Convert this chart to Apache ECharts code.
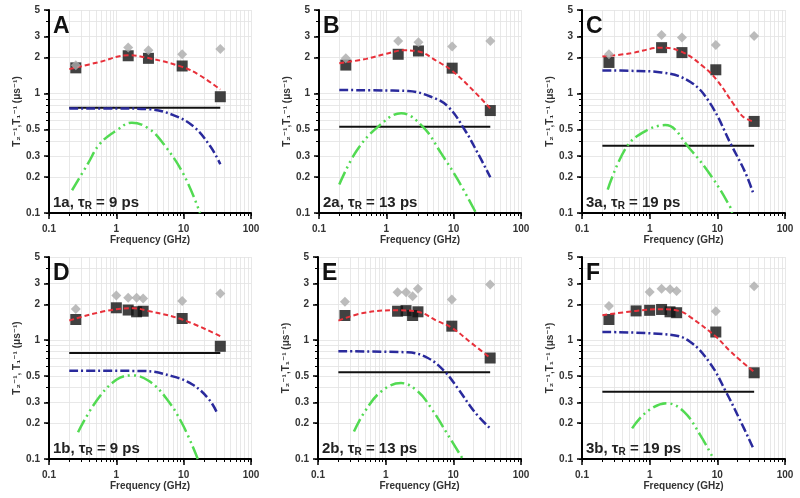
<!DOCTYPE html>
<html><head><meta charset="utf-8">
<script src="https://cdn.jsdelivr.net/npm/echarts@6/dist/echarts.min.js"></script>
<style>html,body{margin:0;padding:0;background:#fff}#c{width:800px;height:498px}</style>
</head><body><div id="c"></div>
<script>
// ---- tick values / labels ----
const xTickValues = [0.1, 1, 10, 100];
const xTickLabels = ['0.1', '1', '10', '100'];
const xMinorValues = [0.1,0.2,0.3,0.4,0.5,0.6,0.7,0.8,0.9,1,2,3,4,5,6,7,8,9,10,20,30,40,50,60,70,80,90,100];
const yTickValues = [0.1, 0.2, 0.3, 0.5, 1, 2, 3, 5];
const yTickLabels = ['0.1', '0.2', '0.3', '0.5', '1', '2', '3', '5'];
const yMinorValues = [0.1,0.2,0.3,0.4,0.5,0.6,0.7,0.8,0.9,1,2,3,4,5];

// ---- panel A (1a, 9 ps) ----
const freqA = [0.25, 1.5, 3, 9.5, 35];
const sqA = [1.64, 2.07, 1.97, 1.70, 0.94];
const diaA = [1.72, 2.43, 2.30, 2.13, 2.36];
const totA = [[0.2,1.60],[0.55,1.83],[1.5,2.09],[3,1.98],[9.5,1.67],[17,1.43],[35,1.08]];
const flatA = 0.76;
const blueA = [[0.2,0.75],[1,0.75],[3,0.74],[7,0.66],[14,0.53],[25,0.36],[35,0.256]];
const greenA = [[0.22,0.155],[0.38,0.26],[0.57,0.38],[1,0.49],[1.7,0.57],[3,0.51],[5,0.38],[10,0.21],[17.5,0.1]];

// ---- panel B (2a, 13 ps) ----
const freqB = [0.25, 1.5, 3, 9.5, 35];
const sqB = [1.73, 2.13, 2.27, 1.63, 0.72];
const diaB = [1.97, 2.75, 2.68, 2.47, 2.75];
const totB = [[0.2,1.79],[0.5,1.95],[1,2.15],[1.8,2.3],[3,2.25],[5.8,1.85],[9.5,1.55],[18,1.11],[35,0.75]];
const flatB = 0.526;
const blueB = [[0.2,1.07],[1,1.06],[2.1,1.05],[4.6,0.94],[8.2,0.78],[14.5,0.50],[22.8,0.317],[35,0.199]];
const greenB = [[0.2,0.173],[0.36,0.33],[0.75,0.526],[1.66,0.685],[3.5,0.526],[6.5,0.317],[11.5,0.19],[21.5,0.1]];

// ---- panel C (3a, 19 ps) ----
const freqC = [0.25, 1.5, 3, 9.5, 35];
const sqC = [1.82, 2.42, 2.20, 1.58, 0.584];
const diaC = [2.13, 3.09, 2.94, 2.55, 3.03];
const totC = [[0.2,2.04],[0.52,2.17],[1.5,2.42],[3,2.23],[6.2,1.68],[9.8,1.30],[17,0.83],[24,0.64],[35,0.58]];
const flatC = 0.365;
const blueC = [[0.2,1.56],[0.5,1.55],[1.5,1.50],[4,1.25],[7.8,0.83],[16.3,0.365],[25.7,0.22],[34,0.146]];
const greenC = [[0.24,0.157],[0.46,0.36],[0.9,0.49],[1.7,0.544],[4,0.34],[8.3,0.2],[15.4,0.113],[16.5,0.1]];

// ---- panel D (1b, 9 ps) ----
const freqD = [0.25, 1, 1.5, 2, 2.5, 9.5, 35];
const sqD = [1.49, 1.87, 1.79, 1.73, 1.75, 1.52, 0.887];
const diaD = [1.83, 2.37, 2.27, 2.27, 2.24, 2.13, 2.47];
const totD = [[0.2,1.46],[1,1.82],[1.8,1.85],[3,1.76],[9.5,1.49],[35,1.08]];
const flatD = 0.78;
const blueD = [[0.2,0.553],[2.5,0.55],[6.9,0.495],[13.7,0.421],[24,0.315],[32,0.238]];
const greenD = [[0.27,0.168],[0.5,0.305],[1,0.464],[1.76,0.505],[3.1,0.45],[5.5,0.325],[9.7,0.194],[16.2,0.1]];

// ---- panel E (2b, 13 ps) ----
const freqE = [0.25, 1.5, 2, 2.5, 3, 9.5, 35];
const sqE = [1.61, 1.75, 1.77, 1.61, 1.73, 1.31, 0.707];
const diaE = [2.10, 2.53, 2.53, 2.34, 2.70, 2.20, 2.94];
const totE = [[0.2,1.46],[0.49,1.70],[1.5,1.78],[3,1.73],[5.9,1.44],[9.5,1.27],[18.3,0.95],[35,0.71]];
const flatE = 0.536;
const blueE = [[0.2,0.805],[2.1,0.79],[4.2,0.707],[7.4,0.546],[11.6,0.394],[20.5,0.25],[35,0.181]];
const greenE = [[0.34,0.17],[0.49,0.25],[0.86,0.37],[1.69,0.435],[3,0.37],[4.7,0.268],[8.3,0.16],[13.8,0.1]];

// ---- panel F (3b, 19 ps) ----
const freqF = [0.25, 0.63, 1, 1.5, 2, 2.5, 9.5, 35];
const sqF = [1.49, 1.76, 1.78, 1.81, 1.73, 1.70, 1.17, 0.531];
const diaFreqF = [0.25, 1, 1.5, 2, 2.5, 9.5, 35];
const diaF = [1.94, 2.54, 2.71, 2.68, 2.59, 1.75, 2.84];
const totF = [[0.2,1.62],[0.63,1.76],[1.5,1.82],[2.8,1.75],[3.95,1.57],[9.5,1.07],[15,0.82],[21.6,0.68],[35,0.54]];
const flatF = 0.368;
const blueF = [[0.2,1.17],[2,1.11],[3.95,0.97],[7.8,0.64],[13.4,0.368],[21.6,0.213],[34,0.123]];
const greenF = [[0.55,0.181],[0.91,0.25],[1.8,0.294],[3.2,0.25],[5.6,0.159],[8.8,0.1]];

const flatRange = [0.2, 35];
const letters = ['A','B','C','D','E','F'];
const captions = ['1a, τ{s|R} = 9 ps','2a, τ{s|R} = 13 ps','3a, τ{s|R} = 19 ps','1b, τ{s|R} = 9 ps','2b, τ{s|R} = 13 ps','3b, τ{s|R} = 19 ps'];
const yNames = ['T₂⁻¹,T₁⁻¹ (μs⁻¹)','T₂⁻¹,T₁⁻¹ (μs⁻¹)','T₂⁻¹,T₁⁻¹ (μs⁻¹)','T₂⁻¹, T₁⁻¹ (μs⁻¹)','T₂⁻¹,T₁⁻¹ (μs⁻¹)','T₂⁻¹,T₁⁻¹ (μs⁻¹)'];
const xName = 'Frequency (GHz)';

const panels = [
  {f:freqA, sq:sqA, df:freqA, dia:diaA, tot:totA, flat:flatA, blue:blueA, green:greenA},
  {f:freqB, sq:sqB, df:freqB, dia:diaB, tot:totB, flat:flatB, blue:blueB, green:greenB},
  {f:freqC, sq:sqC, df:freqC, dia:diaC, tot:totC, flat:flatC, blue:blueC, green:greenC},
  {f:freqD, sq:sqD, df:freqD, dia:diaD, tot:totD, flat:flatD, blue:blueD, green:greenD},
  {f:freqE, sq:sqE, df:freqE, dia:diaE, tot:totE, flat:flatE, blue:blueE, green:greenE},
  {f:freqF, sq:sqF, df:diaFreqF, dia:diaF, tot:totF, flat:flatF, blue:blueF, green:greenF}
];

// ---- layout ----
const gridBoxes = [
  {left:49, top:10, width:202, height:203},
  {left:319, top:10, width:202, height:203},
  {left:582, top:10, width:203, height:203},
  {left:49, top:257, width:202, height:202},
  {left:318, top:257, width:203, height:202},
  {left:582, top:257, width:203, height:202}
];
const FONT = 'Liberation Sans, Arial, DejaVu Sans, sans-serif';

const grid = [], xAxis = [], yAxis = [], series = [], title = [];
const zip = (a, b) => a.map((v, i) => [v, b[i]]);

gridBoxes.forEach((g, i) => {
  grid.push(Object.assign({containLabel:false}, g));
  xAxis.push({type:'log', logBase:10, gridIndex:i, position:'bottom', min:0.1, max:100,
    name:xName, nameLocation:'middle', nameGap:22,
    nameTextStyle:{fontFamily:FONT, fontWeight:'bold', fontSize:10, color:'#333'},
    axisLine:{show:true, onZero:false, lineStyle:{color:'#000', width:2}},
    axisTick:{show:true, customValues:xTickValues, length:6, lineStyle:{color:'#000', width:1.5}},
    axisLabel:{customValues:xTickValues, margin:11, fontFamily:FONT, fontWeight:'bold', fontSize:10, color:'#333',
      formatter:(v)=>xTickLabels[xTickValues.findIndex(t=>Math.abs(Math.log10(t)-Math.log10(v))<1e-6)]},
    splitLine:{show:false}});
  xAxis.push({type:'log', logBase:10, gridIndex:i, position:'bottom', min:0.1, max:100,
    axisLine:{show:false},
    axisTick:{show:true, customValues:xMinorValues, length:3, lineStyle:{color:'#000', width:1}},
    axisLabel:{show:false},
    splitLine:{show:true, lineStyle:{color:'#e2e2e2', width:0.8}}});
  yAxis.push({type:'log', logBase:10, gridIndex:i, position:'left', min:0.1, max:5,
    name:yNames[i], nameLocation:'middle', nameGap:24,
    nameTextStyle:{fontFamily:FONT, fontWeight:'bold', fontSize:10, color:'#333'},
    axisLine:{show:true, onZero:false, lineStyle:{color:'#000', width:2}},
    axisTick:{show:true, customValues:yTickValues, length:5, lineStyle:{color:'#000', width:1.5}},
    axisLabel:{customValues:yTickValues, margin:9, fontFamily:FONT, fontWeight:'bold', fontSize:10, color:'#333',
      formatter:(v)=>yTickLabels[yTickValues.findIndex(t=>Math.abs(Math.log10(t)-Math.log10(v))<1e-6)]},
    splitLine:{show:false}});
  yAxis.push({type:'log', logBase:10, gridIndex:i, position:'left', min:0.1, max:5,
    axisLine:{show:false},
    axisTick:{show:true, customValues:yMinorValues, length:3, lineStyle:{color:'#000', width:1}},
    axisLabel:{show:false},
    splitLine:{show:true, lineStyle:{color:'#e2e2e2', width:0.8}}});

  const p = panels[i];
  const xi = 2*i, yi = 2*i;
  series.push({type:'line', xAxisIndex:xi, yAxisIndex:yi, data:[[flatRange[0], p.flat],[flatRange[1], p.flat]],
    showSymbol:false, symbol:'none', lineStyle:{color:'#111', width:2}, z:2, silent:true});
  series.push({type:'line', xAxisIndex:xi, yAxisIndex:yi, data:p.blue, smooth:0.4,
    showSymbol:false, symbol:'none', lineStyle:{color:'#2a2a9c', width:2.5, type:[9,3,2,3]}, z:2, silent:true});
  series.push({type:'line', xAxisIndex:xi, yAxisIndex:yi, data:p.green, smooth:0.4,
    showSymbol:false, symbol:'none', lineStyle:{color:'#52da52', width:2.5, type:[14,4,2,4,2,4]}, z:2, silent:true});
  series.push({type:'scatter', xAxisIndex:xi, yAxisIndex:yi, data:zip(p.f, p.sq), symbol:'rect', symbolSize:11,
    itemStyle:{color:'#111'}, z:3, silent:true});
  series.push({type:'line', xAxisIndex:xi, yAxisIndex:yi, data:p.tot, smooth:0.4,
    showSymbol:false, symbol:'none', lineStyle:{color:'#e8303a', width:2, type:[5,3]}, z:4, silent:true});
  series.push({type:'scatter', xAxisIndex:xi, yAxisIndex:yi, data:zip(p.df, p.dia), symbol:'diamond', symbolSize:10,
    itemStyle:{color:'#ababab'}, z:5, silent:true});

  title.push({text:letters[i], left:g.left+4, top:g.top+5, padding:0,
    textStyle:{fontFamily:FONT, fontWeight:'bold', fontSize:23, color:'#111'}});
  title.push({text:captions[i], left:g.left+4, top:g.top+g.height-18, padding:0,
    textStyle:{fontFamily:FONT, fontWeight:'bold', fontSize:15, color:'#222',
      rich:{s:{fontFamily:FONT, fontWeight:'bold', fontSize:10, color:'#222', padding:[6,0,0,0]}}}});
});

const chart = echarts.init(document.getElementById('c'), null, {renderer:'canvas'});
chart.setOption({backgroundColor:'#fff', animation:false, title, grid, xAxis, yAxis, series});
</script></body></html>
